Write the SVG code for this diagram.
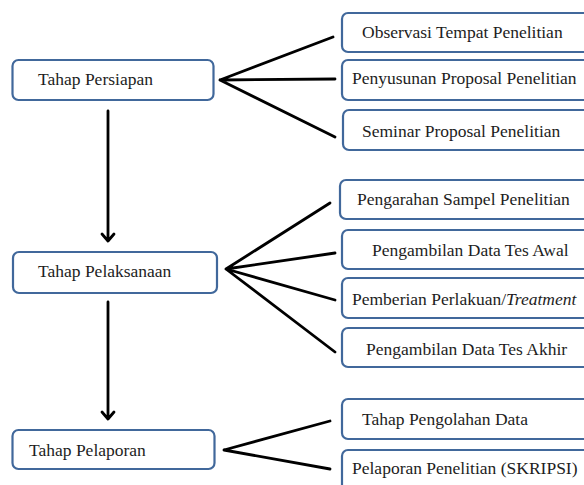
<svg xmlns="http://www.w3.org/2000/svg" width="584" height="485" viewBox="0 0 584 485">
<style>
.box{fill:#fff;stroke:#41689b;stroke-width:2.2}
.t{font-family:"Liberation Serif","Times New Roman","DejaVu Serif",serif;font-size:17.5px;fill:#1d1d1d}
.c{stroke:#000;stroke-width:2.8;fill:none;stroke-linecap:round;stroke-linejoin:round}
</style>
<rect width="584" height="485" fill="#fff"/>
<g id="connectors">
<path class="c" d="M220 80 L333 37 M220 80 L335 79 M220 80 L335 137"/>
<path class="c" d="M226 269 L330 203 M226 269 L335 253 M226 269 L335 300 M226 269 L335 352"/>
<path class="c" d="M224 450 L330 421 M224 450 L330 469"/>
<path class="c" d="M108 111 V241 M102 234 L108 241 L114 234"/>
<path class="c" d="M108 302 V419 M102 412 L108 419 L114 412"/>
</g>
<g id="n-persiapan"><rect class="box" x="12.5" y="60" width="201" height="40" rx="6"/><text class="t" x="38" y="85">Tahap Persiapan</text></g>
<g id="n-pelaksanaan"><rect class="box" x="13" y="252" width="204" height="41" rx="6"/><text class="t" x="38" y="277">Tahap Pelaksanaan</text></g>
<g id="n-pelaporan"><rect class="box" x="12.5" y="430" width="202" height="39" rx="6"/><text class="t" x="29" y="456">Tahap Pelaporan</text></g>
<g id="n-observasi"><rect class="box" x="342" y="13" width="260" height="39" rx="6"/><text class="t" x="362" y="38">Observasi Tempat Penelitian</text></g>
<g id="n-penyusunan"><rect class="box" x="342" y="60" width="260" height="40" rx="6"/><text class="t" x="352" y="84">Penyusunan Proposal Penelitian</text></g>
<g id="n-seminar"><rect class="box" x="343" y="110" width="260" height="40" rx="6"/><text class="t" x="362" y="137">Seminar Proposal Penelitian</text></g>
<g id="n-pengarahan"><rect class="box" x="340" y="180" width="260" height="39" rx="6"/><text class="t" x="357" y="205">Pengarahan Sampel Penelitian</text></g>
<g id="n-awal"><rect class="box" x="342" y="230" width="260" height="39" rx="6"/><text class="t" x="372" y="256">Pengambilan Data Tes Awal</text></g>
<g id="n-pemberian"><rect class="box" x="342" y="278" width="260" height="40" rx="6"/><text class="t" x="352" y="305">Pemberian Perlakuan/<tspan font-style="italic">Treatment</tspan></text></g>
<g id="n-akhir"><rect class="box" x="342" y="328" width="260" height="39" rx="6"/><text class="t" x="366" y="355">Pengambilan Data Tes Akhir</text></g>
<g id="n-pengolahan"><rect class="box" x="342" y="399" width="260" height="40" rx="6"/><text class="t" x="362" y="425">Tahap Pengolahan Data</text></g>
<g id="n-skripsi"><rect class="box" x="342" y="450" width="260" height="50" rx="6"/><text class="t" x="352" y="474">Pelaporan Penelitian (SKRIPSI)</text></g>
</svg>
